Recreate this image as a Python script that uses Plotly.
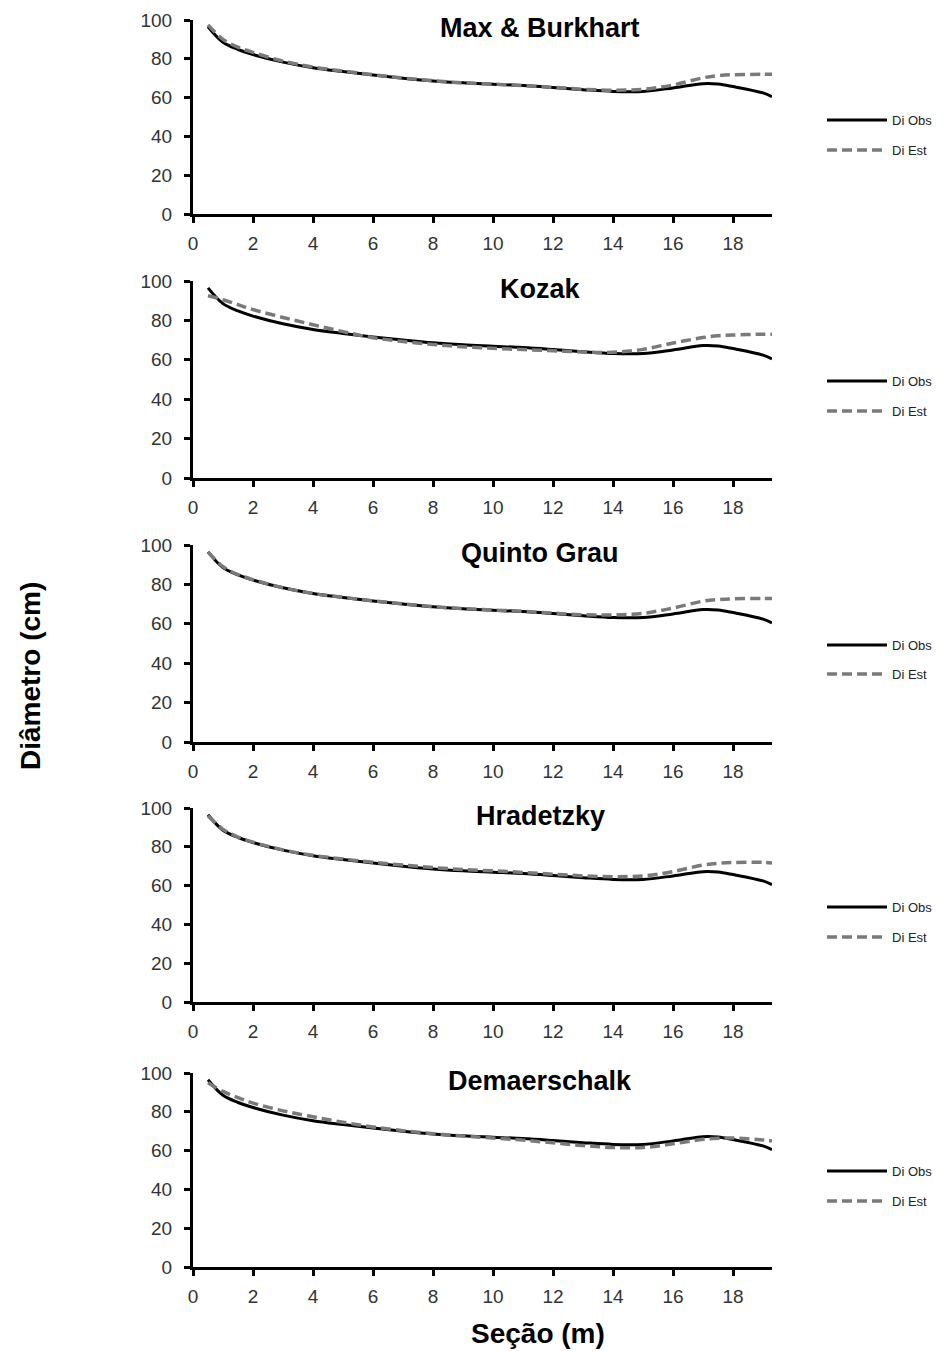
import plotly.graph_objects as go

# Stem sections (m) and observed diameters (cm)
secao = [0.5, 1, 1.5, 2, 3, 4, 5, 6, 7, 8, 9, 10, 11, 12, 13, 14, 15, 16, 17, 17.5, 18, 19, 19.3]
di_obs = [96.5, 88.5, 84.8, 82.2, 78.3, 75.4, 73.4, 71.6, 70.0, 68.6, 67.6, 66.9, 66.2, 65.2,
          64.1, 63.2, 63.2, 65.0, 67.2, 67.0, 65.7, 62.4, 60.5]

# Estimated diameters (cm) for each taper model
modelos = ["Max & Burkhart", "Kozak", "Quinto Grau", "Hradetzky", "Demaerschalk"]
est_max_burkhart = [97.5, 90.0, 86.0, 83.3, 78.8, 75.8, 73.7, 71.8, 70.1, 68.7, 67.6, 66.9, 66.2,
                    65.3, 64.3, 63.8, 64.3, 66.5, 70.2, 71.3, 71.8, 72.0, 72.0]
est_kozak = [92.5, 90.5, 88.0, 85.5, 81.5, 77.8, 74.3, 71.2, 69.3, 67.8, 66.6, 65.8, 65.2, 64.6,
             64.0, 63.8, 65.3, 68.5, 71.3, 72.2, 72.6, 73.0, 73.0]
est_quinto_grau = [96.5, 89.0, 85.0, 82.4, 78.3, 75.4, 73.4, 71.7, 70.1, 68.7, 67.7, 67.0, 66.3,
                   65.4, 64.6, 64.5, 65.3, 68.0, 71.5, 72.3, 72.7, 72.8, 72.8]
est_hradetzky = [96.0, 89.0, 85.0, 82.4, 78.4, 75.6, 73.7, 72.0, 70.6, 69.3, 68.3, 67.6, 66.8,
                 65.9, 65.0, 64.6, 65.0, 67.2, 70.6, 71.5, 71.9, 72.0, 71.6]
est_demaerschalk = [95.0, 90.5, 87.3, 84.5, 80.5, 77.4, 74.6, 72.2, 70.3, 68.7, 67.5, 66.5, 65.4,
                    64.0, 62.6, 61.6, 61.6, 63.5, 65.8, 66.4, 66.5, 65.5, 65.0]
estimados = [est_max_burkhart, est_kozak, est_quinto_grau, est_hradetzky, est_demaerschalk]

x_ticks = [0, 2, 4, 6, 8, 10, 12, 14, 16, 18]
y_ticks = [0, 20, 40, 60, 80, 100]

W, H = 947, 1351
# pixel extents of each panel: (top, bottom)
paineis = [(20, 214), (281, 478), (545, 742), (808, 1002), (1073, 1267)]
x_dom = [193 / W, 772 / W]
# legend rows (pixel y of "Di Obs" and "Di Est")
leg_rows = [(120, 150), (381, 411), (645, 674), (907, 937), (1171, 1201)]

FONT = "Liberation Sans, Arial, sans-serif"
fig = go.Figure()
layout = dict(
    template="none",
    width=W, height=H, autosize=False,
    margin=dict(l=0, r=0, t=0, b=0, pad=0, autoexpand=False),
    paper_bgcolor="white", plot_bgcolor="white",
    showlegend=True,
    font=dict(family=FONT, color="#222"),
)

annotations = []
for i, (nome, est) in enumerate(zip(modelos, estimados)):
    k = i + 1
    xa = "x" if k == 1 else f"x{k}"
    ya = "y" if k == 1 else f"y{k}"
    lg_obs = "legend" if k == 1 else f"legend{2 * k - 1}"
    lg_est = f"legend{2 * k}"
    fig.add_trace(go.Scatter(
        x=secao, y=di_obs, name="Di Obs", mode="lines",
        line=dict(color="black", width=3, shape="spline", smoothing=1),
        xaxis=xa, yaxis=ya, legend=lg_obs,
    ))
    fig.add_trace(go.Scatter(
        x=secao, y=est, name="Di Est", mode="lines",
        line=dict(color="#7a7a7a", width=3.5, dash="10px,5px", shape="spline", smoothing=1),
        xaxis=xa, yaxis=ya, legend=lg_est,
    ))
    top, bot = paineis[i]
    y_dom = [1 - bot / H, 1 - top / H]
    axis_common = dict(
        showline=True, linecolor="black", linewidth=3,
        ticks="outside", ticklen=6, tickwidth=3, tickcolor="black",
        showgrid=False, zeroline=False, automargin=False,
        tickfont=dict(family=FONT, size=19, color="#333"),
    )
    layout["xaxis" if k == 1 else f"xaxis{k}"] = dict(
        domain=x_dom, range=[0, 19.3], tickvals=x_ticks,
        anchor=ya, ticklabelstandoff=4, **axis_common,
    )
    layout["yaxis" if k == 1 else f"yaxis{k}"] = dict(
        domain=y_dom, range=[0, 100], tickvals=y_ticks,
        anchor=xa, ticklabelstandoff=8, **axis_common,
    )
    annotations.append(dict(
        text=f"<b>{nome}</b>", xref="paper", yref="paper",
        x=540 / W, y=1 - (top + 8) / H, xanchor="center", yanchor="middle",
        showarrow=False, font=dict(family=FONT, size=27, color="black"),
    ))
    for lg, yp in zip([lg_obs, lg_est], leg_rows[i]):
        layout[lg] = dict(
            x=822 / W, y=1 - yp / H, xanchor="left", yanchor="middle",
            itemwidth=60, bgcolor="rgba(0,0,0,0)", borderwidth=0,
            font=dict(family=FONT, size=13, color="#222"),
            tracegroupgap=0,
        )

annotations.append(dict(
    text="<b>Diâmetro (cm)</b>", xref="paper", yref="paper",
    x=30 / W, y=1 - 676 / H, textangle=-90, showarrow=False,
    xanchor="center", yanchor="middle",
    font=dict(family=FONT, size=28, color="black"),
))
annotations.append(dict(
    text="<b>Seção (m)</b>", xref="paper", yref="paper",
    x=538 / W, y=1 - 1333 / H, showarrow=False,
    xanchor="center", yanchor="middle",
    font=dict(family=FONT, size=28, color="black"),
))
layout["annotations"] = annotations
fig.update_layout(**layout)
fig.write_html("out.html")
